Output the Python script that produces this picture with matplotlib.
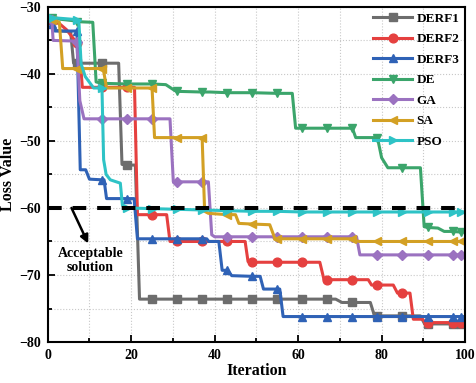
import numpy as np
import matplotlib
matplotlib.use("Agg")
import matplotlib.pyplot as plt
from matplotlib.ticker import MultipleLocator

plt.rcParams['font.family'] = ['Liberation Serif', 'DejaVu Serif']
plt.rcParams['font.weight'] = 'bold'

# Step-like convergence curves, vertices
derf1_x = [0, 1, 1.6, 5.5, 6.2, 7, 13, 17, 17.8, 19, 21, 22, 25, 31, 37, 43, 49, 55, 61, 67,
           69, 70.5, 73, 77.3, 78.3, 79, 85, 89.3, 90.3, 91, 97, 99, 100]
derf1_y = [-31.7, -32, -33.5, -33.7, -38.4, -38.4, -38.4, -38.4, -53.5, -53.6, -53.6, -73.6,
           -73.6, -73.6, -73.6, -73.6, -73.6, -73.6, -73.6, -73.6, -73.6, -74.1, -74.1, -74.1,
           -76.1, -76.1, -76.1, -76.1, -77.3, -77.3, -77.3, -77.3, -77.3]

derf2_x = [0, 1, 3, 4.5, 7, 7.5, 8.3, 13, 19, 20.8, 21.5, 25, 28.5, 29.3, 31, 37, 43, 47.3, 48, 49,
           55, 61, 65.2, 66.2, 67, 73, 76.8, 77.6, 79, 82.8, 83.8, 85, 86.8, 87.6, 89.8, 90.5,
           91, 97, 99, 100]
derf2_y = [-31.8, -32, -32.6, -33.4, -35.4, -35.6, -42, -42, -42, -42, -61, -61, -61, -65, -65,
           -65, -65, -65, -68, -68.1, -68.1, -68.1, -68.1, -70.7, -70.7, -70.7, -70.7, -71.5,
           -71.5, -71.5, -72.7, -72.7, -72.7, -76.6, -76.6, -77.1, -77.1, -77.1, -77.1, -77.1]

derf3_x = [0, 1, 1.7, 7, 7.8, 9.1, 10, 13, 13.5, 14.1, 19, 20.7, 21.5, 25, 31, 37, 38.1, 38.6,
           41, 41.8, 43, 44.1, 49, 50.9, 51.7, 55, 55.6, 56.4, 61, 67, 73, 79, 85, 91, 97, 99, 100]
derf3_y = [-31.8, -32.5, -33.6, -33.6, -54.3, -54.3, -55.7, -55.8, -55.8, -58.6, -58.6, -58.6,
           -64.6, -64.6, -64.6, -64.6, -64.6, -65.0, -65.0, -69.3, -69.3, -70.1, -70.2, -70.2,
           -72.1, -72.1, -72.1, -76.2, -76.2, -76.2, -76.2, -76.2, -76.2, -76.2, -76.2, -76.2,
           -76.2]

de_x = [0, 1, 6.7, 7, 10.8, 11.6, 13, 19, 25, 28.3, 30.5, 31, 37, 38.9, 43, 49, 55, 58.6, 59.4,
        61, 67, 73, 73.8, 79, 80, 81.5, 85, 89.3, 90.2, 91, 93.5, 95, 97, 99, 100]
de_y = [-31.7, -31.7, -32.1, -32.2, -32.3, -41.2, -41.4, -41.5, -41.5, -41.6, -42.5, -42.6,
        -42.7, -42.7, -42.8, -42.8, -42.9, -42.9, -48.1, -48.1, -48.1, -48.1, -49.5, -49.5,
        -52.5, -54, -54, -54, -62.8, -62.9, -63.0, -63.5, -63.5, -63.6, -63.6]

ga_x = [0, 1, 1.3, 6.5, 7, 7.7, 8.7, 13, 19, 25, 29.3, 30.1, 31, 37, 38.5, 39.3, 40, 43, 49, 55,
        61, 67, 73, 74, 74.8, 79, 85, 91, 97, 99, 100]
ga_y = [-31.7, -32, -35, -35.1, -35.3, -44, -46.7, -46.7, -46.7, -46.7, -46.7, -56.1, -56.1,
        -56.1, -56.1, -64.0, -64.3, -64.3, -64.3, -64.3, -64.3, -64.3, -64.3, -64.3, -67.0,
        -67.0, -67.0, -67.0, -67.0, -67.0, -67.0]

sa_x = [0, 1, 2.8, 3.6, 7, 13, 13.3, 14.1, 19, 25, 25.6, 31, 37, 37.6, 38.5, 43, 45, 45.8, 49,
        53.2, 54.4, 55, 61, 67, 73, 73.8, 74.8, 79, 85, 91, 97, 99, 100]
sa_y = [-31.7, -31.9, -32.3, -39.2, -39.2, -39.2, -39.2, -42.1, -42.1, -42.1, -49.5, -49.5,
        -49.5, -60.5, -60.8, -61.0, -61.0, -62.3, -62.4, -62.5, -64.5, -64.6, -64.6, -64.6,
        -64.6, -64.9, -65.0, -65.0, -65.0, -65.0, -65.0, -65.0, -65.0]

pso_x = [0, 1, 7, 7.5, 8, 9, 11, 13, 13.4, 14, 15, 17.4, 17.9, 18.5, 19, 25, 31, 37, 43, 49,
         55, 61, 67, 73, 79, 85, 91, 97, 99, 100]
pso_y = [-31.5, -31.6, -31.9, -32.5, -38.5, -40.4, -42.1, -42.1, -52.8, -55, -55.8, -56.3,
         -59.6, -60, -60, -60.1, -60.2, -60.3, -60.4, -60.5, -60.5, -60.6, -60.6, -60.6, -60.6,
         -60.6, -60.6, -60.6, -60.6, -60.6]

labels = ["DERF1", "DERF2", "DERF3", "DE", "GA", "SA", "PSO"]
threshold = -60

# markers sit every 6 iterations (plus the last one)
MARKER_X = list(range(1, 98, 6)) + [99]

styles = [
    ("#6d6d6d", "s"),
    ("#e5403f", "o"),
    ("#2f62b6", "^"),
    ("#3ba56b", "v"),
    ("#9b72c0", "D"),
    ("#d3a024", "<"),
    ("#2ec3c6", ">"),
]

series = [(derf1_x, derf1_y), (derf2_x, derf2_y), (derf3_x, derf3_y), (de_x, de_y),
          (ga_x, ga_y), (sa_x, sa_y), (pso_x, pso_y)]

fig = plt.figure(figsize=(4.77, 3.83), dpi=100)
ax = fig.add_axes([0.100, 0.107, 0.875, 0.875])

for (xs, ys), lab, (col, mk) in zip(series, labels, styles):
    xs = np.array(xs)
    mask = np.isin(xs, MARKER_X)
    ms = 5.4 if mk in ("s", "D") else 6.3
    ax.plot(xs, ys, color=col, lw=2.2, marker=mk, markersize=ms, markevery=mask,
            markeredgecolor=col, label=lab)

# acceptable-solution threshold
ax.axhline(threshold, color='black', lw=2.9, dashes=(3.4, 2.7), zorder=5)
ax.text(10.2, -67.9, "Acceptable\nsolution", ha='center', va='center', fontsize=10,
        fontweight='bold', linespacing=1.1, zorder=6)
# arrow runs from the dashed line down to the text
ax.annotate("", xy=(9.7, -65.3), xytext=(5.7, -60.0),
            arrowprops=dict(arrowstyle='-|>', color='black', lw=1.8, mutation_scale=12,
                            shrinkA=0, shrinkB=0), zorder=6)

ax.set_xlim(0, 100)
ax.set_ylim(-80, -30)
ax.xaxis.set_major_locator(MultipleLocator(20))
ax.xaxis.set_minor_locator(MultipleLocator(10))
ax.yaxis.set_major_locator(MultipleLocator(10))
ax.yaxis.set_minor_locator(MultipleLocator(5))
ax.tick_params(which='both', direction='in', width=1.3, labelsize=10, pad=5)
ax.tick_params(which='major', length=5)
ax.tick_params(which='minor', length=3)
ax.grid(True, which='both', color='#c8c8c8', linestyle=':', lw=0.8)
ax.set_axisbelow(True)
for sp in ax.spines.values():
    sp.set_linewidth(1.5)

ax.set_xlabel("Iteration", fontsize=11.5, fontweight='bold', labelpad=1)
ax.set_ylabel("Loss Value", fontsize=11.5, fontweight='bold', labelpad=2)

ax.legend(loc='upper right', frameon=False, fontsize=9.5, handlelength=3.0,
          handletextpad=0.3, labelspacing=0.62, borderaxespad=0.05)

fig.savefig("out.png", dpi=100)
